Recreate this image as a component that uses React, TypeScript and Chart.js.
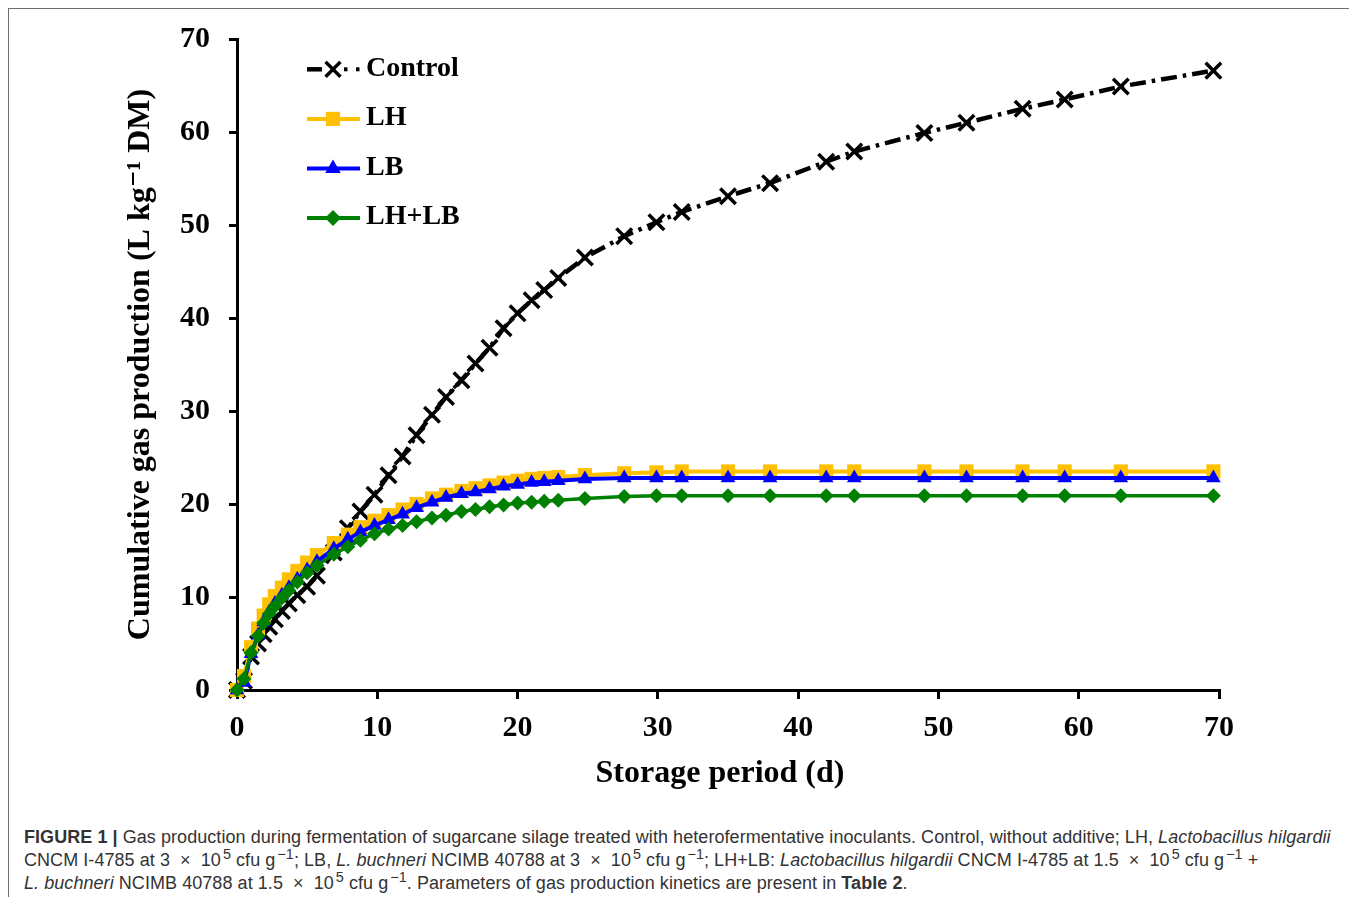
import React, { useEffect, useRef } from 'react';
import { Chart, registerables } from 'chart.js';

Chart.register(...registerables);

// ---- data ----
const days = [0, 0.5, 1, 1.5, 1.9, 2.3, 2.7, 3.2, 3.7, 4.3, 5.0, 5.7, 6.9, 7.9, 8.8, 9.8, 10.8, 11.8, 12.8, 13.9, 14.9, 16.0, 17.0, 18.0, 19.0, 20.0, 21.0, 21.9, 22.9, 24.8, 27.6, 29.9, 31.7, 35, 38, 42, 44, 49, 52, 56, 59, 63, 69.6];
const controlValues = [0, 1.0, 3.6, 5.0, 6.0, 6.8, 7.6, 8.5, 9.3, 10.2, 11.1, 12.3, 14.8, 17.4, 19.2, 21.0, 23.1, 25.1, 27.4, 29.6, 31.5, 33.3, 35.1, 36.8, 38.9, 40.5, 41.9, 43.0, 44.3, 46.5, 48.8, 50.3, 51.4, 53.1, 54.5, 56.8, 57.9, 59.9, 61.0, 62.5, 63.5, 64.9, 66.6];
const lhValues = [0, 1.5, 4.6, 6.6, 8.0, 9.2, 10.1, 11.0, 11.9, 12.8, 13.7, 14.5, 15.8, 16.7, 17.5, 18.2, 18.8, 19.4, 20.0, 20.6, 21.0, 21.4, 21.7, 22.0, 22.3, 22.5, 22.7, 22.8, 22.9, 23.1, 23.3, 23.4, 23.5, 23.5, 23.5, 23.5, 23.5, 23.5, 23.5, 23.5, 23.5, 23.5, 23.5];
const lbValues = [0, 0.8, 3.9, 5.9, 7.3, 8.4, 9.3, 10.2, 11.0, 11.9, 12.9, 13.8, 15.2, 16.2, 17.0, 17.7, 18.3, 18.9, 19.6, 20.2, 20.7, 21.1, 21.3, 21.6, 21.9, 22.1, 22.3, 22.4, 22.5, 22.7, 22.8, 22.8, 22.8, 22.8, 22.8, 22.8, 22.8, 22.8, 22.8, 22.8, 22.8, 22.8, 22.8];
const lhlbValues = [0, 1.2, 4.0, 5.8, 7.2, 8.2, 9.0, 9.9, 10.7, 11.6, 12.6, 13.4, 14.6, 15.4, 16.1, 16.8, 17.3, 17.7, 18.1, 18.5, 18.8, 19.2, 19.4, 19.7, 19.9, 20.1, 20.2, 20.3, 20.4, 20.6, 20.8, 20.9, 20.9, 20.9, 20.9, 20.9, 20.9, 20.9, 20.9, 20.9, 20.9, 20.9, 20.9];

const xTicks = [0, 10, 20, 30, 40, 50, 60, 70];
const yTicks = [0, 10, 20, 30, 40, 50, 60, 70];
const seriesNames = ['Control', 'LH', 'LB', 'LH+LB'];
const seriesColors = ['#000000', '#FFC000', '#0000FF', '#008000'];
const xTitle = 'Storage period (d)\u00A0\u00A0';
const yTitle = 'Cumulative gas production (L kg\u207B\u00B9 DM)';

const SERIF = "'Liberation Serif', 'Times New Roman', 'DejaVu Serif', serif";

function toPoints(vals: number[]) {
  return days.map((d, i) => ({ x: d, y: vals[i] }));
}

function drawMarker(ctx: CanvasRenderingContext2D, kind: string, x: number, y: number, color: string) {
  ctx.save();
  ctx.fillStyle = color;
  ctx.strokeStyle = color;
  ctx.setLineDash([]);
  ctx.beginPath();
  if (kind === 'rect') {
    const s = 10 * Math.SQRT1_2;
    ctx.rect(x - s, y - s, 2 * s, 2 * s);
    ctx.fill();
  } else if (kind === 'triangle') {
    const r = 9;
    ctx.moveTo(x, y - r);
    ctx.lineTo(x + r * 0.866, y + r * 0.5);
    ctx.lineTo(x - r * 0.866, y + r * 0.5);
    ctx.closePath();
    ctx.fill();
  } else if (kind === 'rectRot') {
    const r = 8;
    ctx.moveTo(x - r, y);
    ctx.lineTo(x, y - r);
    ctx.lineTo(x + r, y);
    ctx.lineTo(x, y + r);
    ctx.closePath();
    ctx.fill();
  } else {
    const o = 10.5 * Math.SQRT1_2;
    ctx.lineWidth = 3.5;
    ctx.moveTo(x - o, y - o);
    ctx.lineTo(x + o, y + o);
    ctx.moveTo(x + o, y - o);
    ctx.lineTo(x - o, y + o);
    ctx.stroke();
  }
  ctx.restore();
}

const markerKinds = ['crossRot', 'rect', 'triangle', 'rectRot'];

const insideLegend = {
  id: 'insideLegend',
  afterDraw(chart: any) {
    const ctx: CanvasRenderingContext2D = chart.ctx;
    const { left, top } = chart.chartArea;
    const x0 = left + 70;
    const x1 = left + 123;
    const mx = left + 96;
    const tx = left + 129;
    ctx.save();
    seriesNames.forEach((name, i) => {
      const y = top + 30.3 + i * 49.6;
      const color = seriesColors[i];
      ctx.strokeStyle = color;
      ctx.lineCap = 'butt';
      if (i === 0) {
        ctx.lineWidth = 4.5;
        ctx.beginPath();
        ctx.moveTo(x0, y);
        ctx.lineTo(x0 + 15, y);
        ctx.stroke();
        ctx.fillStyle = color;
        ctx.fillRect(mx + 11, y - 2, 3.5, 4);
        ctx.fillRect(mx + 23, y - 2, 3.5, 4);
      } else {
        ctx.lineWidth = 4;
        ctx.beginPath();
        ctx.moveTo(x0, y);
        ctx.lineTo(x1, y);
        ctx.stroke();
      }
      drawMarker(ctx, markerKinds[i], mx, y, color);
      ctx.fillStyle = '#000';
      ctx.font = `bold 28px ${SERIF}`;
      ctx.textAlign = 'left';
      ctx.textBaseline = 'middle';
      ctx.fillText(name, tx, y - 1);
    });
    ctx.restore();
  },
};

const supStyle: React.CSSProperties = { fontSize: '0.8em', verticalAlign: 'super', lineHeight: 0, marginLeft: 2 };
const timesStyle: React.CSSProperties = { margin: '0 5px' };

function Sci({ a }: { a: string }) {
  return (
    <>
      {a}
      <span style={timesStyle}> × </span>10<sup style={supStyle}>5</sup> cfu g<sup style={supStyle}>−1</sup>
    </>
  );
}

export default function App() {
  const canvasRef = useRef<HTMLCanvasElement | null>(null);

  useEffect(() => {
    if (!canvasRef.current) return;
    const tickFont = { family: SERIF, size: 30, weight: 'bold' as const };
    const titleFont = { family: SERIF, size: 32, weight: 'bold' as const };
    const chart = new Chart(canvasRef.current, {
      type: 'line',
      data: {
        datasets: [
          {
            label: seriesNames[0],
            data: toPoints(controlValues),
            borderColor: seriesColors[0],
            backgroundColor: seriesColors[0],
            borderWidth: 4.5,
            borderDash: [16, 6, 3.5, 6],
            borderCapStyle: 'butt',
            pointStyle: 'crossRot',
            pointRadius: 11,
            pointBorderWidth: 3.5,
            pointBorderColor: seriesColors[0],
            tension: 0,
            clip: false,
            order: 4,
          },
          {
            label: seriesNames[1],
            data: toPoints(lhValues),
            borderColor: seriesColors[1],
            backgroundColor: seriesColors[1],
            borderWidth: 4,
            pointStyle: 'rect',
            pointRadius: 10,
            pointBorderWidth: 0,
            pointBackgroundColor: seriesColors[1],
            tension: 0,
            clip: false,
            order: 3,
          },
          {
            label: seriesNames[2],
            data: toPoints(lbValues),
            borderColor: seriesColors[2],
            backgroundColor: seriesColors[2],
            borderWidth: 4,
            pointStyle: 'triangle',
            pointRadius: 8.5,
            pointBorderWidth: 0,
            pointBackgroundColor: seriesColors[2],
            tension: 0,
            clip: false,
            order: 2,
          },
          {
            label: seriesNames[3],
            data: toPoints(lhlbValues),
            borderColor: seriesColors[3],
            backgroundColor: seriesColors[3],
            borderWidth: 3.5,
            pointStyle: 'rectRot',
            pointRadius: 7.5,
            pointBorderWidth: 0,
            pointBackgroundColor: seriesColors[3],
            tension: 0,
            clip: false,
            order: 1,
          },
        ],
      },
      options: {
        animation: false,
        responsive: false,
        events: [],
        layout: { padding: { left: 109, right: 130, top: 30, bottom: 0 } },
        plugins: {
          legend: { display: false },
          tooltip: { enabled: false },
        },
        scales: {
          x: {
            type: 'linear',
            min: 0,
            max: 70,
            afterBuildTicks: (scale: any) => {
              scale.ticks = xTicks.map((v) => ({ value: v }));
            },
            afterFit: (scale: any) => {
              scale.height = 109;
            },
            grid: {
              display: true,
              drawOnChartArea: false,
              drawTicks: true,
              tickLength: 9,
              tickWidth: 3,
              tickColor: '#000',
              color: '#000',
              lineWidth: 3,
            },
            border: { display: true, color: '#000', width: 3 },
            ticks: { color: '#000', font: tickFont, padding: 11, maxRotation: 0, autoSkip: false },
            title: { display: true, text: xTitle, color: '#000', font: titleFont, padding: { top: 4, bottom: 6 } },
          },
          y: {
            type: 'linear',
            min: 0,
            max: 70,
            afterBuildTicks: (scale: any) => {
              scale.ticks = yTicks.map((v) => ({ value: v }));
            },
            afterFit: (scale: any) => {
              scale.width = 119;
              scale.paddingTop = 10;
              scale.paddingBottom = 10;
            },
            grid: {
              display: true,
              drawOnChartArea: false,
              drawTicks: true,
              tickLength: 8,
              tickWidth: 3,
              tickColor: '#000',
              color: '#000',
              lineWidth: 3,
            },
            border: { display: true, color: '#000', width: 3 },
            ticks: { color: '#000', font: tickFont, padding: 19, autoSkip: false },
            title: { display: true, text: yTitle, color: '#000', font: titleFont, padding: { top: 4, bottom: 4 } },
          },
        },
      },
      plugins: [insideLegend],
    } as any);
    return () => chart.destroy();
  }, []);

  return (
    <div
      style={{
        position: 'relative',
        width: 1340,
        height: 888,
        borderLeft: '1px solid #6e6e6e',
        borderRight: '1px solid #6e6e6e',
        borderTop: '1px solid #6e6e6e',
        overflow: 'hidden',
        background: '#fff',
      }}
    >
      <canvas ref={canvasRef} width={1340} height={790} style={{ position: 'absolute', left: 0, top: 0 }} />
      <div
        style={{
          position: 'absolute',
          left: 15,
          top: 817,
          fontFamily: "'Liberation Sans', Arial, sans-serif",
          fontSize: 18,
          letterSpacing: '0.06px',
          lineHeight: '23px',
          color: '#333',
          whiteSpace: 'nowrap',
        }}
      >
        <b>FIGURE 1 |</b> Gas production during fermentation of sugarcane silage treated with heterofermentative inoculants. Control, without additive; LH, <i>Lactobacillus hilgardii</i>
        <br />
        CNCM I-4785 at <Sci a="3" />; LB, <i>L. buchneri</i> NCIMB 40788 at <Sci a="3" />; LH+LB: <i>Lactobacillus hilgardii</i> CNCM I-4785 at <Sci a="1.5" /> +
        <br />
        <i>L. buchneri</i> NCIMB 40788 at <Sci a="1.5" />. Parameters of gas production kinetics are present in <b>Table 2</b>.
      </div>
    </div>
  );
}
